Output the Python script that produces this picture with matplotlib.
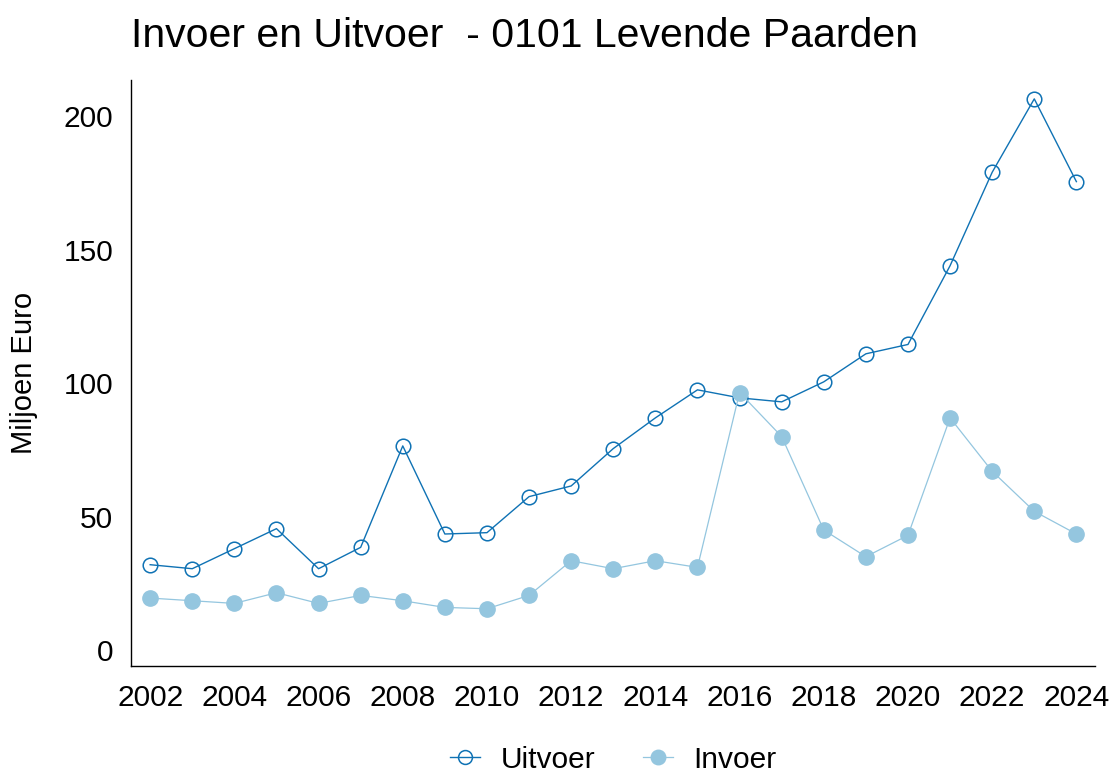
import matplotlib
matplotlib.use("Agg")
import matplotlib.pyplot as plt

plt.rcParams["font.family"] = ["Liberation Sans", "DejaVu Sans"]

# data (miljoen euro)
years = list(range(2002, 2025))
uitvoer = [32, 30.5, 38, 45.5, 30.5, 38.5, 76.5, 43.5, 44, 57.5, 61.5, 75.5,
           87, 97.5, 94.5, 93, 100.5, 111, 114.5, 144, 179, 206.5, 175.5]
invoer = [19.5, 18.5, 17.5, 21.5, 17.5, 20.5, 18.5, 16, 15.5, 20.5, 33.5, 30.5,
          33.5, 31, 96.5, 80, 45, 35, 43, 87, 67, 52, 43.5]
xticks = list(range(2002, 2025, 2))
yticks = [0, 50, 100, 150, 200]

C_UIT = "#0f72b4"
C_IN = "#94c6df"

fig = plt.figure(figsize=(11.12, 7.71), dpi=100)
ax = fig.add_axes([0.118, 0.136, 0.867, 0.760])

ax.plot(years, uitvoer, color=C_UIT, lw=1.0, marker="o", ms=10.5,
        mfc="none", mec=C_UIT, mew=1.1, label="Uitvoer", zorder=2)
ax.plot(years, invoer, color=C_IN, lw=0.9, marker="o", ms=11,
        mfc=C_IN, mec=C_IN, label="Invoer", zorder=3)

ax.set_xlim(2001.55, 2024.45)
ax.set_ylim(-6, 213.5)
ax.set_xticks(xticks)
ax.set_yticks(yticks)
ax.tick_params(length=0, labelsize=21.5)
ax.tick_params(axis="x", pad=13)
ax.tick_params(axis="y", pad=13)
for s in ["top", "right"]:
    ax.spines[s].set_visible(False)
for s in ["left", "bottom"]:
    ax.spines[s].set_linewidth(1.0)

ax.set_ylabel("Miljoen Euro", fontsize=21, labelpad=18)
ax.set_title("Invoer en Uitvoer  - 0101 Levende Paarden", loc="left",
             fontsize=29.5, pad=24)

ax.legend(loc="upper center", bbox_to_anchor=(0.5, -0.09), ncol=2,
          frameon=False, fontsize=21.5, handlelength=1.0, columnspacing=1.6,
          handletextpad=0.7, markerscale=0.95)

fig.savefig("out.png", dpi=100)
